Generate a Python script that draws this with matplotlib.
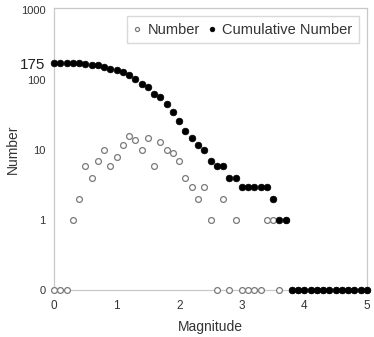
import matplotlib
matplotlib.use("Agg")
from matplotlib import pyplot as plt

plt.rcParams['font.family'] = ['Liberation Sans', 'DejaVu Sans']

# magnitudes, pas de 0.1
magnitude = [round(0.1 * i, 1) for i in range(51)]

# nombre de seismes par classe de magnitude
number = [0, 0, 0, 1, 2, 6, 4, 7, 10, 6,
          8, 12, 16, 14, 10, 15, 6, 13, 10, 9,
          7, 4, 3, 2, 3, 1, 0, 2, 0, 1,
          0, 0, 0, 0, 1, 1, 0, 1, 0, 0,
          0, 0, 0, 0, 0, 0, 0, 0, 0, 0, 0]

# nombre cumule (M >= magnitude)
cumulative = [175, 175, 175, 175, 174, 172, 166, 162, 155, 145,
              139, 131, 119, 103, 89, 79, 64, 58, 45, 35,
              26, 19, 15, 12, 10, 7, 6, 6, 4, 4,
              3, 3, 3, 3, 3, 2, 1, 1, 0, 0,
              0, 0, 0, 0, 0, 0, 0, 0, 0, 0, 0]

ytick_vals = [0.1, 1, 10, 100, 175, 1000]
ytick_labels = ['0', '1', '10', '100', '175', '1000']
xtick_vals = [0, 1, 2, 3, 4, 5]

ZERO = 0.1  # le zero est place en bas de l'axe log

def remap(L):
    return [v if v > 0 else ZERO for v in L]

fig = plt.figure(figsize=(3.74, 3.37), dpi=100)
ax = fig.add_axes([0.1444, 0.1395, 0.8369, 0.8365])

ax.plot(magnitude, remap(number), linestyle='none', marker='o', markersize=4.2,
        markerfacecolor='white', markeredgecolor='#7a7a7a', markeredgewidth=0.9,
        clip_on=False, label='Number', zorder=3)
ax.plot(magnitude, remap(cumulative), linestyle='none', marker='o', markersize=4.8,
        markerfacecolor='black', markeredgecolor='black', markeredgewidth=0.5,
        clip_on=False, label='Cumulative Number', zorder=4)

ax.set_yscale('log')
ax.set_ylim(0.1, 1070)
ax.set_xlim(0, 5)
ax.set_yticks(ytick_vals)
ax.set_yticklabels(ytick_labels)
ax.minorticks_off()
ax.set_xticks(xtick_vals)
ax.set_xticklabels([str(v) for v in xtick_vals])

for lab in ax.get_yticklabels():
    if lab.get_text() == '175':
        lab.set_fontsize(11)
        lab.set_color('#222222')
    else:
        lab.set_fontsize(8)
        lab.set_color('#333333')
for lab in ax.get_xticklabels():
    lab.set_fontsize(8.5)
    lab.set_color('#333333')

ax.tick_params(axis='both', length=0)
ax.tick_params(axis='y', pad=6)
ax.tick_params(axis='x', pad=7)

for s in ax.spines.values():
    s.set_color('#c8c8c8')
    s.set_linewidth(0.9)

ax.set_xlabel('Magnitude', fontsize=10, color='#333333')
ax.set_ylabel('Number', fontsize=10, color='#333333')
ax.xaxis.set_label_coords(0.5, -0.108)
ax.yaxis.set_label_coords(-0.11, 0.5)

leg = ax.legend(loc='upper right', ncol=2, fontsize=10.5, frameon=True, fancybox=False,
                handlelength=0.5, handletextpad=0.45, columnspacing=0.6, markerscale=0.7,
                borderpad=0.45, borderaxespad=0.55, edgecolor='#d0d0d0')
for t in leg.get_texts():
    t.set_color('#333333')

fig.savefig('out.png', dpi=100)
